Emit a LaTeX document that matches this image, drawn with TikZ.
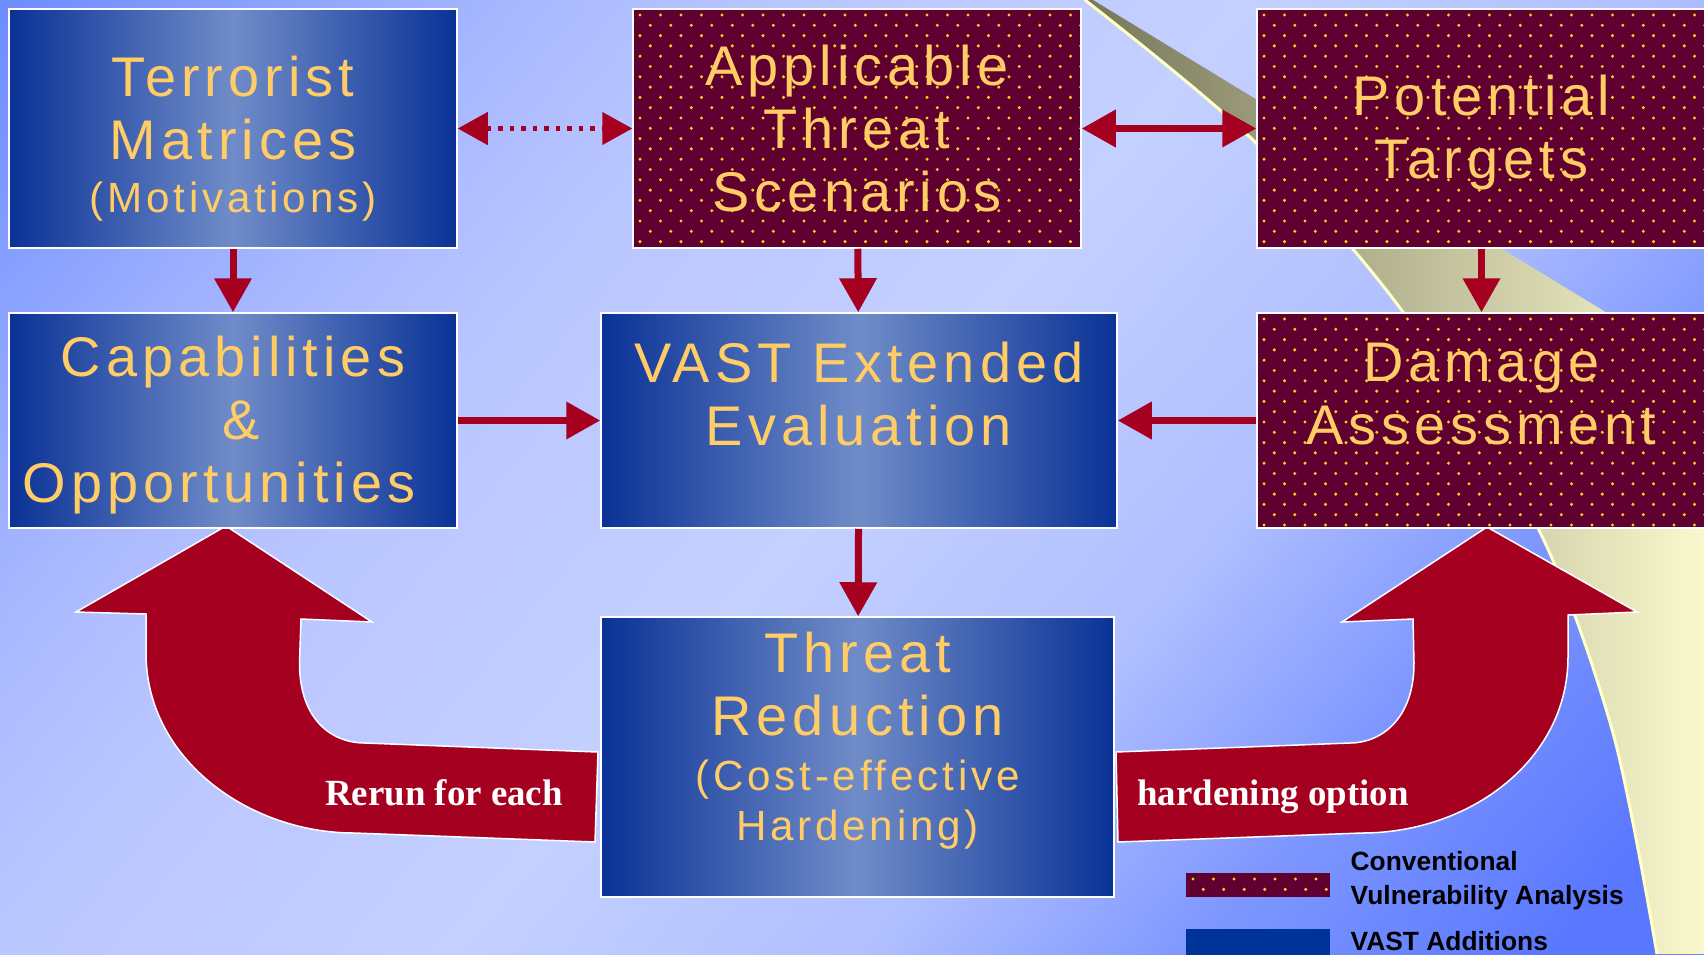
\documentclass[tikz,border=0pt]{standalone}
\usepackage{fontspec}
\setmainfont{Liberation Sans}
\newfontfamily\panelfont{Liberation Sans}[LetterSpace=9.0]
\newfontfamily\loopfont{Liberation Serif}
\usetikzlibrary{arrows.meta}

\definecolor{bgA}{RGB}{108,140,255}
\definecolor{bgB}{RGB}{168,184,255}
\definecolor{bgC}{RGB}{186,198,255}
\definecolor{bgD}{RGB}{196,208,255}
\definecolor{bgE}{RGB}{176,191,255}
\definecolor{bgF}{RGB}{127,152,255}
\definecolor{bgG}{RGB}{90,120,255}
\definecolor{swooshleft}{RGB}{118,118,90}
\definecolor{swooshright}{RGB}{250,248,205}
\definecolor{swooshedge}{RGB}{255,255,200}
\definecolor{maroonfill}{RGB}{96,0,48}
\definecolor{dotgold}{RGB}{245,205,30}
\definecolor{vastedge}{RGB}{10,50,150}
\definecolor{vastmid}{RGB}{112,140,200}
\definecolor{labelgold}{RGB}{255,204,102}
\definecolor{flowred}{RGB}{166,0,33}
\definecolor{legendblue}{RGB}{0,51,153}

\pgfdeclarehorizontalshading{backdrop}{100bp}{color(0bp)=(bgA); color(26bp)=(bgA); color(36bp)=(bgB);
  color(41bp)=(bgC); color(50bp)=(bgD); color(58bp)=(bgE); color(64bp)=(bgF); color(71bp)=(bgG); color(100bp)=(bgG)}

\newcommand\subline{\fontsize{12}{14.5}\selectfont}

\begin{document}
\begin{tikzpicture}[x=0.1mm, y=-0.1mm,
    panel/.style={draw=white, line width=0.15mm, inner sep=0pt, align=center,
      text=labelgold, font=\panelfont\fontsize{15.9}{17.9}\selectfont},
    threatbox/.style={panel, fill=maroonfill,
      path picture={
        \foreach \r [evaluate=\r as \rx using {mod(\r,2)*1.025}] in {0,...,24}{
          \foreach \c in {0,...,22}{
            \fill[dotgold] ([xshift={\c*2.05mm+\rx*1mm+0.7mm}, yshift={-\r*1.03mm-0.6mm}]path picture bounding box.north west) circle (0.17mm);
          }
        }
      }},
    vastbox/.style={panel, left color=vastedge, right color=vastedge, middle color=vastmid},
    flowarrow/.style={draw=flowred, line width=0.7mm, -{Triangle[length=3.4mm, width=3.6mm]}},
    flowboth/.style={flowarrow, {Triangle[length=3.4mm, width=3.6mm]}-{Triangle[length=3.4mm, width=3.6mm]}},
    dotarrow/.style={draw=flowred, line width=0.45mm, dash pattern=on 0.45mm off 0.7mm,
      {Triangle[length=3mm, width=3.2mm]}-{Triangle[length=3mm, width=3.2mm]}},
    bigarrow/.style={fill=flowred, draw=white, line width=0.15mm},
    looptext/.style={text=white, font=\loopfont\bfseries\fontsize{10.5}{12}\selectfont, inner sep=0pt},
    legendtext/.style={font=\bfseries\fontsize{7.5}{9.7}\selectfont, align=left, inner sep=0pt}
  ]
  \useasboundingbox (0,0) rectangle (1704,954);

  % backdrop and swoosh
  \begin{scope}
    \clip (0,0) rectangle (1704,954);
    \shade[shading=backdrop, transform canvas={rotate around={-40:(852,477)}}] (-148,-523) rectangle (1852,1477);
  \end{scope}
  \shade[left color=swooshleft, right color=swooshright]
    plot[smooth] coordinates {(1085,0) (1253,140) (1403,312) (1538,528) (1613,733) (1657,954)}
    -- (1704,954) -- (1704,372) -- (1093,0) -- cycle;
  \draw[swooshedge, line width=0.3mm]
    plot[smooth] coordinates {(1085,0) (1253,140) (1403,312) (1538,528) (1613,733) (1657,954)};

  % rerun loops
  \filldraw[bigarrow] (226,526) -- (372,622) -- (301,619) -- (299.5,663)
    .. controls (299.5,720) and (332,743) .. (365,743) -- (598,752) -- (595,842) -- (354,833)
    .. controls (250,833) and (146,760) .. (146,653) -- (146,614) -- (76,612) -- cycle;
  \filldraw[bigarrow] (1487,527) -- (1637,612) -- (1568,615) -- (1568,657)
    .. controls (1568,760) and (1470,833) .. (1362,833) -- (1118,842) -- (1116,752) -- (1350,743)
    .. controls (1380,743) and (1414,720) .. (1414,663) -- (1413,619) -- (1342,622) -- cycle;

  % boxes
  \node[vastbox, minimum width=44.8mm, minimum height=23.9mm] (terror) at (233,128.5)
    {Terrorist\\Matrices\\[-1mm]{\subline (Motivations)}\\[-7.4mm]};
  \node[threatbox, minimum width=44.8mm, minimum height=23.9mm] (appl) at (857,128.5)
    {Applicable\\Threat\\Scenarios};
  \node[threatbox, minimum width=44.9mm, minimum height=23.9mm] (potent) at (1481.5,128.5)
    {Potential\\Targets\\[-6mm]};
  \node[vastbox, minimum width=44.8mm, minimum height=21.5mm] (capab) at (233,420.5)
    {Capabilities\\\hspace*{1.6mm}\&\\Opportunities\hspace*{2.8mm}\mbox{}\\[-6mm]};
  \node[vastbox, minimum width=51.6mm, minimum height=21.5mm] (vast) at (859,420.5)
    {VAST Extended\\Evaluation\\[-0.9mm]};
  \node[threatbox, minimum width=44.9mm, minimum height=21.5mm] (damage) at (1481.5,420.5)
    {Damage\\Assessment\\[-0.9mm]};
  \node[vastbox, minimum width=51.3mm, minimum height=28mm] (reduc) at (857.5,757)
    {Threat\\Reduction\\[-0.8mm]{\subline (Cost-effective}\\[-1.3mm]{\subline Hardening)}\\[-2.1mm]};

  % connectors
  \draw[dotarrow] (terror) -- (appl);
  \draw[flowboth] (appl) -- (potent);
  \draw[flowarrow] (terror) -- (capab);
  \draw[flowarrow] (appl) -- (vast);
  \draw[flowarrow] (potent) -- (damage);
  \draw[flowarrow] (capab) -- (vast);
  \draw[flowarrow] (damage) -- (vast);
  \draw[flowarrow] (vast) -- (reduc);

  \node[looptext, anchor=base] (rerun) at (444,805) {Rerun for each};
  \node[looptext, anchor=base] (harden) at (1273,805) {hardening option};

  % legend
  \node[threatbox, draw=none, minimum width=14.4mm, minimum height=2.4mm] (legconv) at (1258,885) {};
  \node[fill=legendblue, minimum width=14.4mm, minimum height=2.6mm, inner sep=0pt] (legvast) at (1258,942) {};
  \node[legendtext, anchor=north west] (legconvtext) at (1350,851) {Conventional\\Vulnerability Analysis};
  \node[legendtext, anchor=base west] (legvasttext) at (1350,950) {VAST Additions};
\end{tikzpicture}
\end{document}
